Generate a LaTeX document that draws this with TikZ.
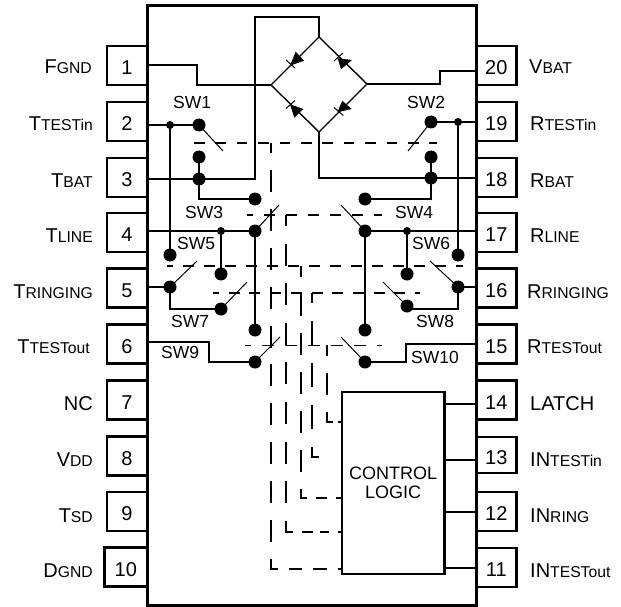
\documentclass[tikz,border=0pt]{standalone}
\usepackage{fontspec}
\setmainfont{Liberation Sans}
\newcommand\PinLab[2]{{\fontsize{20}{24}\selectfont #1}{\fontsize{15.7}{24}\selectfont #2}}
\tikzset{
  wire/.style={line width=1.7pt},
  bridge/.style={line width=1.4pt},
  arm/.style={line width=1pt},
  ctrlv/.style={line width=1.7pt},
  ctrlh/.style={line width=1.7pt},
  bigdot/.style={circle,fill=black,inner sep=0pt,minimum size=13pt},
  smalldot/.style={circle,fill=black,inner sep=0pt,minimum size=8pt},
  pinbox/.style={draw,line width=2.8pt,rectangle,inner sep=0pt,minimum width=40pt,minimum height=39pt,
     font=\fontsize{20}{24}\selectfont,text height=18.5pt,text depth=0pt},
  lablft/.style={anchor=base east,inner sep=0pt},
  labrgt/.style={anchor=base west,inner sep=0pt},
  swlab/.style={anchor=base west,inner sep=0pt,font=\fontsize{17.5}{20}\selectfont},
  diode/.style={fill=black},
  dbar/.style={line width=1pt}
}
\begin{document}
\begin{tikzpicture}[x=1pt,y=-1pt]
\useasboundingbox (0,0) rectangle (621,607);
% pins
\node[pinbox] (p1) at (127,65.5) {1};
\node[pinbox] (p2) at (127,121.5) {2};
\node[pinbox] (p3) at (127,177.5) {3};
\node[pinbox] (p4) at (127,232.5) {4};
\node[pinbox] (p5) at (127,288) {5};
\node[pinbox] (p6) at (127,344) {6};
\node[pinbox] (p7) at (127,400) {7};
\node[pinbox] (p8) at (127,456) {8};
\node[pinbox] (p9) at (127,511.5) {9};
\node[pinbox,minimum width=42.5pt] (p10) at (125.8,567) {10};
\node[pinbox] (p20) at (496.3,65.5) {20};
\node[pinbox] (p19) at (496.3,121.5) {19};
\node[pinbox] (p18) at (496.3,177.5) {18};
\node[pinbox] (p17) at (496.3,232.5) {17};
\node[pinbox] (p16) at (496.3,288) {16};
\node[pinbox] (p15) at (496.3,344) {15};
\node[pinbox] (p14) at (496.3,400) {14};
\node[pinbox,minimum height=36pt] (p13) at (496.3,455) {13};
\node[pinbox] (p12) at (496.3,511.5) {12};
\node[pinbox] (p11) at (496.3,567.5) {11};
% main box and control logic
\node[draw,line width=3pt,inner sep=0pt,minimum width=329pt,minimum height=599pt] (main) at (311.5,305.5) {};
\node[draw,line width=2.8pt,inner sep=0pt,minimum width=102.5pt,minimum height=182pt,align=center,
      font=\fontsize{18}{19}\selectfont,text depth=1pt] (ctl) at (393.2,483) {CONTROL\\LOGIC};
% left labels
\node[lablft] (l1) at (92,74) {\PinLab{F}{GND}};
\node[lablft] (l2) at (93,131) {\PinLab{T}{TESTin}};
\node[lablft] (l3) at (93,187) {\PinLab{T}{BAT}};
\node[lablft] (l4) at (93,242) {\PinLab{T}{LINE}};
\node[lablft] (l5) at (93,298) {\PinLab{T}{RINGING}};
\node[lablft] (l6) at (90,353) {\PinLab{T}{TESTout}};
\node[lablft] (l7) at (93,410) {\PinLab{NC}{}};
\node[lablft] (l8) at (93,466) {\PinLab{V}{DD}};
\node[lablft] (l9) at (93,522) {\PinLab{T}{SD}};
\node[lablft] (l10) at (93,577) {\PinLab{D}{GND}};
% right labels
\node[labrgt] (r20) at (529,74) {\PinLab{V}{BAT}};
\node[labrgt] (r19) at (530,131) {\PinLab{R}{TESTin}};
\node[labrgt] (r18) at (530,187) {\PinLab{R}{BAT}};
\node[labrgt] (r17) at (530,242) {\PinLab{R}{LINE}};
\node[labrgt] (r16) at (527,298) {\PinLab{R}{RINGING}};
\node[labrgt] (r15) at (527,353) {\PinLab{R}{TESTout}};
\node[labrgt] (r14) at (530,410) {\PinLab{LATCH}{}};
\node[labrgt] (r13) at (530,466) {\PinLab{IN}{TESTin}};
\node[labrgt] (r12) at (530,522) {\PinLab{IN}{RING}};
\node[labrgt] (r11) at (530,577) {\PinLab{IN}{TESTout}};
% switch labels
\node[swlab] (t1) at (173,109) {SW1};
\node[swlab] (t2) at (407,109) {SW2};
\node[swlab] (t3) at (185,218) {SW3};
\node[swlab] (t4) at (395,218) {SW4};
\node[swlab] (t5) at (177,249) {SW5};
\node[swlab] (t6) at (412,249) {SW6};
\node[swlab] (t7) at (171,327) {SW7};
\node[swlab] (t8) at (416,327) {SW8};
\node[swlab] (t9) at (161,358) {SW9};
\node[swlab] (t10) at (411,363) {SW10};
% contacts, left
\node[bigdot] (a1) at (199,125) {};
\node[bigdot] (a2) at (199,157) {};
\node[bigdot] (a3) at (199,179) {};
\node[bigdot] (a4) at (255,199) {};
\node[bigdot] (a5) at (255,231) {};
\node[bigdot] (a6) at (170,255) {};
\node[bigdot] (a7) at (221,274) {};
\node[bigdot] (a8) at (170,287) {};
\node[bigdot] (a9) at (221,309) {};
\node[bigdot] (a10) at (255,330) {};
\node[bigdot] (a11) at (255,362) {};
\node[smalldot] (as1) at (170,125) {};
\node[smalldot] (as2) at (221,231) {};
% contacts, right
\node[bigdot] (b1) at (431,122) {};
\node[bigdot] (b2) at (431,157) {};
\node[bigdot] (b3) at (431,178) {};
\node[bigdot] (b4) at (365,199) {};
\node[bigdot] (b5) at (365,231) {};
\node[bigdot] (b6) at (458,255) {};
\node[bigdot] (b7) at (407,274) {};
\node[bigdot] (b8) at (458,287) {};
\node[bigdot] (b9) at (407,306) {};
\node[bigdot] (b10) at (365,330) {};
\node[bigdot] (b11) at (365,362) {};
\node[smalldot] (bs1) at (458,122) {};
\node[smalldot] (bs2) at (407,231) {};
% bridge
\coordinate (dT) at (319,37);
\coordinate (dL) at (271,85);
\coordinate (dB) at (319,132);
\coordinate (dR) at (367,84);
\draw[bridge] (dT) -- (dR) -- (dB) -- (dL) -- cycle;
\fill[diode] (290,65.7) -- (295.7,51.7) -- (304,60.7) -- cycle;
\draw[dbar] (286,60) -- (295,68);
\fill[diode] (337.7,58.3) -- (341,69.3) -- (352,60) -- cycle;
\draw[dbar] (334,61) -- (343,53);
\fill[diode] (290,104.3) -- (294.3,117.7) -- (303.3,109) -- cycle;
\draw[dbar] (286,108.5) -- (295,100.5);
\fill[diode] (337.3,112.3) -- (342.3,100.7) -- (351.7,109) -- cycle;
\draw[dbar] (334,107.5) -- (343.3,115.5);
% wire ends at the package edge
\coordinate (e1) at (147,65);
\coordinate (e2) at (147,125);
\coordinate (e3) at (147,179);
\coordinate (e4) at (147,231);
\coordinate (e5) at (147,287);
\coordinate (e6) at (147,342);
\coordinate (e20) at (476,71);
\coordinate (e19) at (476,122);
\coordinate (e18) at (476,178);
\coordinate (e17) at (476,231);
\coordinate (e16) at (476,287);
\coordinate (e15) at (476,344);
% bends
\coordinate (j1) at (197,85);
\coordinate (j2) at (440,84);
\coordinate (j3) at (255,17);
\coordinate (j4) at (319,17);
\coordinate (j5) at (209,362);
\coordinate (j6) at (406,362);
\coordinate (j7) at (170,309);
\coordinate (j8) at (458,309);
\coordinate (j9) at (407,309);
\coordinate (j10) at (199,199);
\coordinate (j11) at (431,199);
\coordinate (j12) at (319,178);
% wires
\draw[wire] (e1) -| (j1) -- (dL);
\draw[wire] (e20) -| (j2) -- (dR);
\draw[wire] (dT) -- (j4) -- (j3) |- (e3);
\draw[wire] (dB) -- (j12) -- (e18);
\draw[wire] (e2) -- (a1.center);
\draw[wire] (as1.center) -- (a6.center);
\draw[wire] (a2.center) -- (j10) -- (a4.center);
\draw[wire] (e4) -- (a5.center);
\draw[wire] (as2.center) -- (a7.center);
\draw[wire] (a5.center) -- (a10.center);
\draw[wire] (e5) -- (a8.center) -- (j7) -- (a9.center);
\draw[wire] (e6) -| (j5) -- (a11.center);
\draw[wire] (e19) -- (b1.center);
\draw[wire] (bs1.center) -- (b6.center);
\draw[wire] (b2.center) -- (j11) -- (b4.center);
\draw[wire] (e17) -- (b5.center);
\draw[wire] (bs2.center) -- (b7.center);
\draw[wire] (b5.center) -- (b10.center);
\draw[wire] (e16) -- (b8.center) -- (j8) -- (j9) -- (b9.center);
\draw[wire] (e15) -| (j6) -- (b11.center);
% switch arms
\coordinate (m1) at (223,151);
\coordinate (m2) at (408,151);
\coordinate (m3) at (279,205);
\coordinate (m4) at (341,205);
\coordinate (m5) at (197,261);
\coordinate (m6) at (430,261);
\coordinate (m7) at (247,282);
\coordinate (m8) at (383,282);
\coordinate (m9) at (280,337);
\coordinate (m10) at (341,337);
\draw[arm] (a1.center) -- (m1);
\draw[arm] (b1.center) -- (m2);
\draw[arm] (a5.center) -- (m3);
\draw[arm] (b5.center) -- (m4);
\draw[arm] (a8.center) -- (m5);
\draw[arm] (b8.center) -- (m6);
\draw[arm] (a9.center) -- (m7);
\draw[arm] (b9.center) -- (m8);
\draw[arm] (a11.center) -- (m9);
\draw[arm] (b11.center) -- (m10);
% switch control bars
\coordinate (h1a) at (194,143);  \coordinate (h1b) at (437,143);
\coordinate (h2a) at (247,215);  \coordinate (h2b) at (382,215);
\coordinate (h3a) at (167,266);  \coordinate (h3b) at (463,266);
\coordinate (h4a) at (213,293);  \coordinate (h4b) at (420,293);
\coordinate (h5a) at (245,345.5);\coordinate (h5b) at (382,345.5);
\draw[ctrlh,dash pattern=on 10.5pt off 10.9pt] (h1a) -- (h1b);
\draw[ctrlh,dash pattern=on 11pt off 11pt,dash phase=5pt] (h2a) -- (h2b);
\draw[ctrlh,dash pattern=on 11pt off 10pt,dash phase=5pt] (h3a) -- (h3b);
\draw[ctrlh,dash pattern=on 11pt off 9.7pt,dash phase=5pt] (h4a) -- (h4b);
\draw[ctrlh,dash pattern=on 12pt off 11pt,dash phase=6pt] (h5a) -- (h5b);
% control lines
\coordinate (v1a) at (271,143);  \coordinate (v1b) at (271,569.8);
\coordinate (v2a) at (286,215);  \coordinate (v2b) at (286,532.8);
\coordinate (v3a) at (301,266);  \coordinate (v3b) at (301,498.8);
\coordinate (v4a) at (312,293);  \coordinate (v4b) at (312,457.8);
\coordinate (v5a) at (327,345);  \coordinate (v5b) at (327,422.8);
\coordinate (w4) at (319,457);
\draw[ctrlv,dash pattern=on 22pt off 16.9pt,dash phase=12pt] (v1a) -- (v1b);
\draw[ctrlv,dash pattern=on 22pt off 17.6pt,dash phase=11pt] (v2a) -- (v2b);
\draw[ctrlv,dash pattern=on 22pt off 17pt,dash phase=11pt] (v3a) -- (v3b);
\draw[ctrlv,dash pattern=on 24pt off 18pt,dash phase=14pt] (v4a) -- (v4b);
\draw[ctrlv,dash pattern=on 22pt off 17pt,dash phase=11pt] (v5a) -- (v5b);
\draw[ctrlh,dash pattern=on 7pt off 11pt on 13pt off 11pt on 14pt off 11pt on 4pt off 4pt] (271,569) -- (271,569 -| ctl.west);
\draw[ctrlh,dash pattern=on 7pt off 9pt on 11pt off 7pt on 9pt off 9pt on 4pt off 4pt] (286,532) -- (286,532 -| ctl.west);
\draw[ctrlh,dash pattern=on 6pt off 9pt on 11pt off 9pt on 6pt off 4pt] (301,498) -- (301,498 -| ctl.west);
\draw[ctrlh] (312,457) -- (w4);
\draw[ctrlh,dash pattern=on 6pt off 5pt on 5pt off 4pt] (327,422) -- (327,422 -| ctl.west);
% control logic outputs
\draw[wire] (ctl.east |- 0,404) -- (476,404);
\draw[wire] (ctl.east |- 0,460) -- (476,460);
\draw[wire] (ctl.east |- 0,512) -- (476,512);
\draw[wire] (ctl.east |- 0,568) -- (476,568);
\end{tikzpicture}
\end{document}
